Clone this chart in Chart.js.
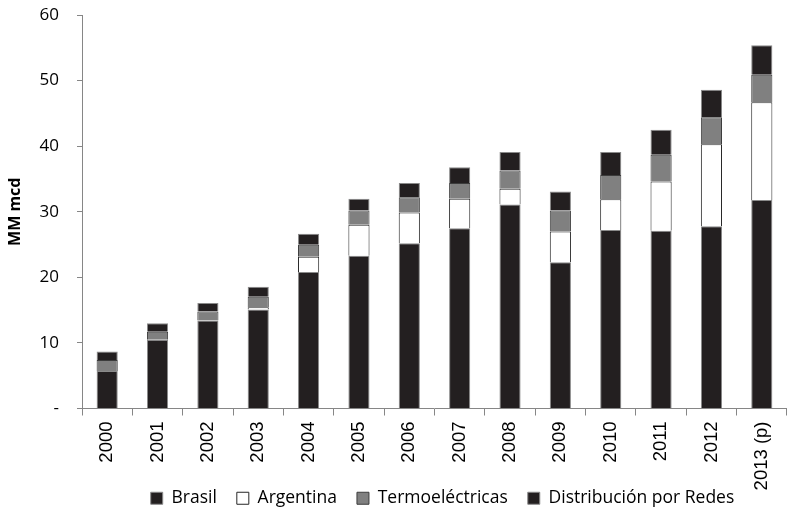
<!DOCTYPE html>
<html>
<head>
<meta charset="utf-8">
<script src="https://cdn.jsdelivr.net/npm/chart.js@4"></script>
<style>
  html, body { margin: 0; padding: 0; background: #fff; overflow: hidden; }
</style>
</head>
<body>
<canvas id="chart" width="790" height="515"></canvas>
<script>
// values (MM mcd)
const years = ['2000', '2001', '2002', '2003', '2004', '2005', '2006', '2007', '2008', '2009', '2010', '2011', '2012', '2013 (p)'];
const brasil = [5.7, 10.5, 13.4, 15.1, 20.8, 23.3, 25.2, 27.5, 31.1, 22.3, 27.2, 27.1, 27.8, 31.8];
const argentina = [0, 0, 0, 0.35, 2.35, 4.7, 4.7, 4.5, 2.4, 4.7, 4.7, 7.5, 12.5, 14.9];
const termo = [1.7, 1.2, 1.4, 1.6, 1.8, 2.2, 2.3, 2.4, 2.8, 3.2, 3.7, 4.1, 4.1, 4.2];
const distribucion = [1.3, 1.3, 1.3, 1.5, 1.7, 1.8, 2.2, 2.4, 2.8, 2.9, 3.5, 3.8, 4.2, 4.5];
const yTicks = [0, 10, 20, 30, 40, 50, 60];

const dark = '#231f20';
const axisGray = '#868686';

// legend sits a bit right of the plot centre in the original
const shiftLegend = {
  id: 'shiftLegend',
  afterLayout(chart) {
    chart.legend.left += 8;
    chart.legend.right += 8;
  }
};

const ctx = document.getElementById('chart').getContext('2d');

new Chart(ctx, {
  type: 'bar',
  data: {
    labels: years,
    datasets: [
      { label: 'Brasil', data: brasil, backgroundColor: dark, borderColor: '#8a8a8a', borderWidth: 1 },
      { label: 'Argentina', data: argentina, backgroundColor: '#ffffff', borderColor: '#262626', borderWidth: 1 },
      { label: 'Termoeléctricas', data: termo, backgroundColor: '#808080', borderColor: '#3c3c3c', borderWidth: 1 },
      { label: 'Distribución por Redes', data: distribucion, backgroundColor: dark, borderColor: '#8a8a8a', borderWidth: 1 }
    ]
  },
  options: {
    responsive: false,
    animation: false,
    layout: { padding: { top: 15, left: 0, right: 0, bottom: -2 } },
    datasets: { bar: { categoryPercentage: 1, barPercentage: 0.42 } },
    plugins: {
      legend: {
        position: 'bottom',
        fullSize: false,
        labels: {
          boxWidth: 12,
          boxHeight: 12,
          padding: 20,
          color: '#000',
          font: { family: 'Open Sans', size: 17.5 }
        }
      },
      tooltip: { enabled: false }
    },
    scales: {
      x: {
        stacked: true,
        grid: { display: true, drawOnChartArea: false, tickLength: 7, color: axisGray },
        border: { color: axisGray },
        ticks: {
          maxRotation: 90,
          minRotation: 90,
          autoSkip: false,
          padding: 6,
          color: '#000',
          font: { family: 'Liberation Sans', size: 18.5 }
        },
        afterFit: (scale) => {
          scale.height = 61;
          // let the last label run past the axis box, as in the original
          scale._computeLabelArea = () => undefined;
        }
      },
      y: {
        stacked: true,
        min: 0,
        max: 60,
        afterBuildTicks: (scale) => { scale.ticks = yTicks.map(v => ({ value: v })); },
        ticks: {
          padding: 18,
          color: '#000',
          font: { family: 'Open Sans', size: 17 },
          callback: (v) => (v === 0 ? '-' : v)
        },
        grid: { drawOnChartArea: false, tickLength: 5, color: axisGray },
        border: { color: axisGray },
        title: {
          display: true,
          text: 'MM mcd',
          color: '#000',
          font: { family: 'Open Sans', size: 16, weight: 'bold' },
          padding: { top: 6, bottom: 0 }
        },
        afterFit: (scale) => {
          scale.width = 82;
          scale.paddingTop = 10;
          scale.paddingBottom = 10;
        }
      }
    }
  },
  plugins: [shiftLegend]
});
</script>
</body>
</html>
